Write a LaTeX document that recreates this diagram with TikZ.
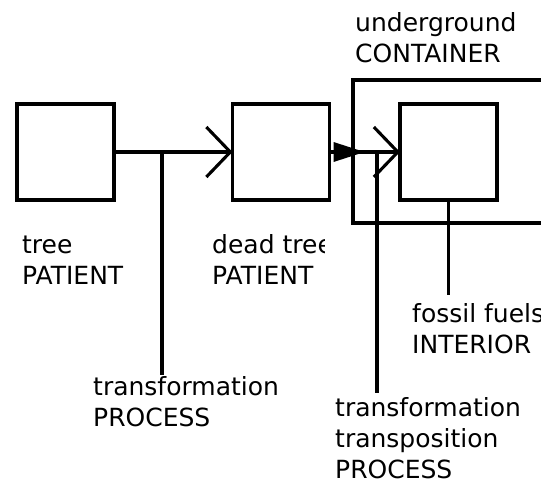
\documentclass[tikz,border=0pt]{standalone}
\usepackage{fontspec}
\setmainfont{DejaVu Sans}
\usetikzlibrary{arrows.meta,calc}
\begin{document}
\begin{tikzpicture}[x=1pt,y=-1pt,
  box/.style={draw, line width=3.1pt, minimum width=97pt, minimum height=96pt, inner sep=0pt, outer sep=0pt},
  conn/.style={line width=3.1pt},
  lbl/.style={font=\fontsize{25}{31}\selectfont, align=left, inner sep=0pt, anchor=base west},
  barb/.style={-{Straight Barb[length=24pt,width=50pt]}}
]
\useasboundingbox (0,0) rectangle (541,488);
\clip (0,0) rectangle (541,488);

% boxes
\node[box] (tree) at (65.5,152) {};
\node[box] (dead) at (281,152) {};
\node[box, minimum width=247pt, minimum height=143pt] (container) at (476.5,151.5) {};
\node[box] (fossil) at (448.5,152) {};

% free ends and junctions
\coordinate (j1) at (162,152);
\coordinate (e1) at (162,375);
\coordinate (j2) at (377,152);
\coordinate (e2) at (377,393);
\coordinate (e3) at (448.5,295);

% connectors
\draw[conn,barb] (tree.east) -- (dead.west);
\draw[conn] (j1) -- (e1);
\draw[conn,barb] (dead.east) -- (fossil.west);
\fill ($(dead.east)+(4,-10)$) -- ($(dead.east)+(4,10)$) -- ($(dead.east)+(35,0)$) -- cycle;
\draw[conn] (j2) -- (e2);
\draw[conn] (fossil.south) -- (e3);

% labels (the base anchor sits on the last line)
\node[lbl] (ltree) at (22,284) {tree\\PATIENT};
\begin{scope}
  \clip (200,215) rectangle (324,300);
  \node[lbl] (ldead) at (212,284) {dead tree\\PATIENT};
\end{scope}
\node[lbl] (lproc1) at (93,426) {transformation\\PROCESS};
\node[lbl] (lcont) at (355,62) {underground\\CONTAINER};
\node[lbl] (lfossil) at (412,353) {fossil fuels\\INTERIOR};
\node[lbl] (lproc2) at (335,478) {transformation\\transposition\\PROCESS};
\end{tikzpicture}
\end{document}
